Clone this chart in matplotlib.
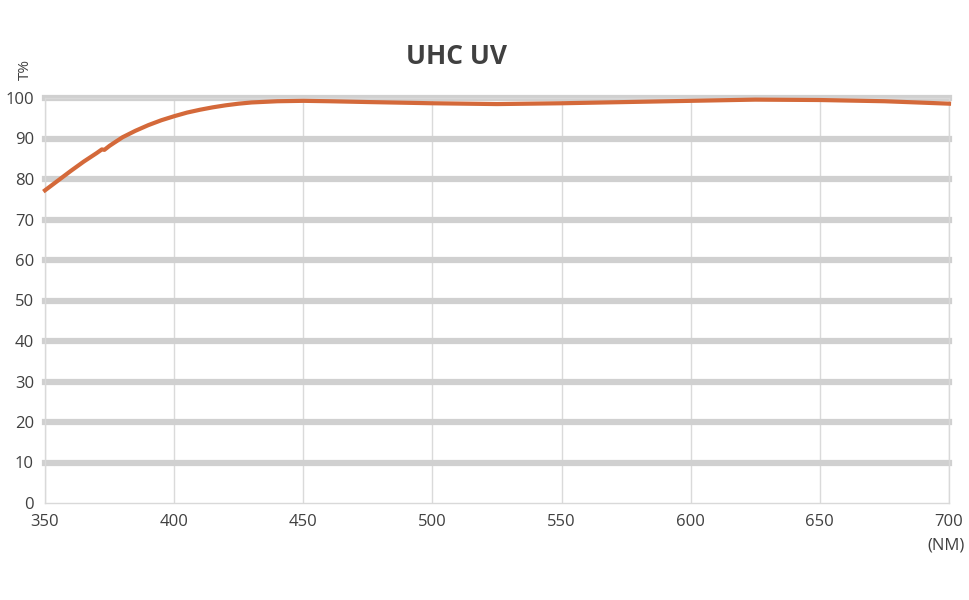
import matplotlib.pyplot as plt

# Transmission curve
wavelength = [350, 355, 360, 365, 370, 372, 373, 375, 380, 385, 390, 395, 400, 405, 410,
              415, 420, 425, 430, 440, 450, 460, 475, 500, 525, 550, 575, 600, 625,
              650, 675, 700]
transmission = [77.2, 79.6, 82.0, 84.3, 86.4, 87.3, 87.2, 88.2, 90.3, 91.9, 93.3, 94.5,
                95.5, 96.4, 97.1, 97.7, 98.2, 98.6, 98.9, 99.2, 99.3, 99.2, 99.0, 98.7,
                98.5, 98.7, 99.0, 99.3, 99.6, 99.5, 99.2, 98.6]

x_ticks = [350, 400, 450, 500, 550, 600, 650, 700]
y_ticks = [0, 10, 20, 30, 40, 50, 60, 70, 80, 90, 100]

plt.rcParams['font.family'] = ['Open Sans', 'DejaVu Sans']

fig = plt.figure(figsize=(9.7, 6), dpi=100)
ax = fig.add_axes([45 / 970, 1 - 503 / 600, 904 / 970, 405 / 600])

ax.set_xlim(350, 700)
ax.set_ylim(0, 100)

# grid: thin vertical, thick horizontal
for x in x_ticks:
    ax.axvline(x, color='#dadada', lw=1, zorder=1)
for y in y_ticks[1:]:
    ax.axhline(y, color='#d0d0d0', lw=4.5, zorder=1, clip_on=False)

ax.plot(wavelength, transmission, color='#d4693a', lw=3, zorder=3, clip_on=False)

for s in ax.spines.values():
    s.set_color('#d9d9d9')
    s.set_linewidth(1)

ax.set_xticks(x_ticks)
ax.set_yticks(y_ticks)
ax.tick_params(length=0, labelsize=12, labelcolor='#404040', pad=8)

fig.text(457 / 970, 1 - 57 / 600, 'UHC UV', ha='center', va='center',
         fontsize=19, fontweight='bold', color='#404040')
fig.text(25 / 970, 1 - 70 / 600, 'T%', ha='center', va='center', rotation=90,
         fontsize=11, color='#404040')
fig.text(946 / 970, 1 - 545 / 600, '(NM)', ha='center', va='center',
         fontsize=12, color='#404040')

fig.savefig('out.png', dpi=100)
